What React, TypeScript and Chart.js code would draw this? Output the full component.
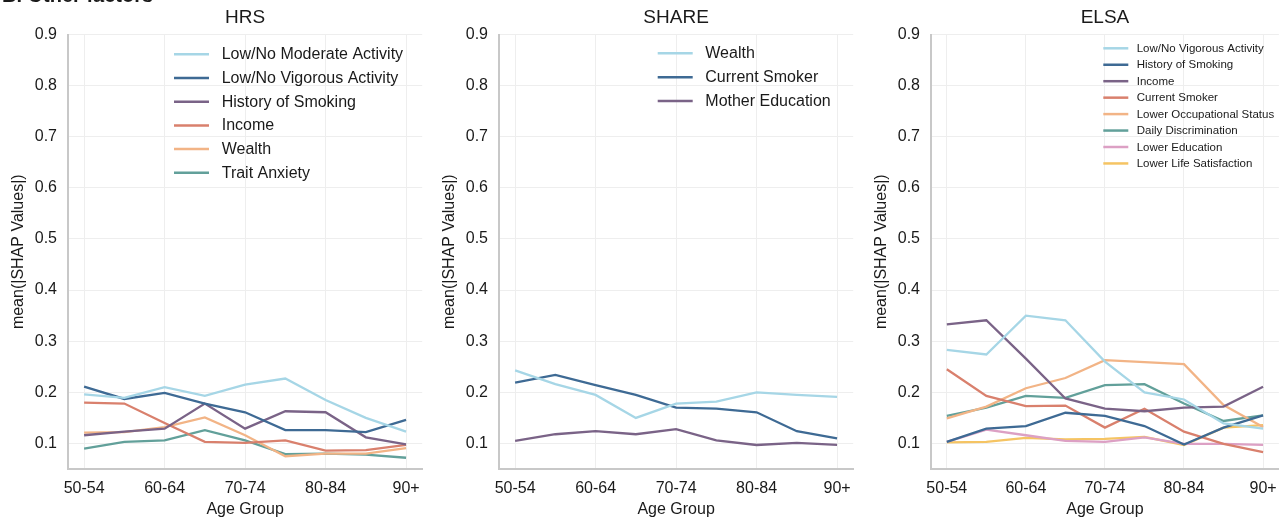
import React, { useEffect, useRef } from 'react';
import { Chart, registerables } from 'chart.js';

Chart.register(...registerables);

const FONT = '"Liberation Sans", Arial, Helvetica, sans-serif';
Chart.defaults.font.family = FONT;

// ---------- data ----------
const ageGroups = ['50-54', '55-59', '60-64', '65-69', '70-74', '75-79', '80-84', '85-89', '90+'];
const xTickIndices = [0, 2, 4, 6, 8];
const yTickValues = [0.1, 0.2, 0.3, 0.4, 0.5, 0.6, 0.7, 0.8, 0.9];

// HRS
const hrsLabels = ['Low/No Moderate Activity', 'Low/No Vigorous Activity', 'History of Smoking', 'Income', 'Wealth', 'Trait Anxiety'];
const hrsModerateActivity = [0.196, 0.189, 0.210, 0.193, 0.215, 0.227, 0.185, 0.150, 0.123];
const hrsVigorousActivity = [0.211, 0.187, 0.199, 0.178, 0.161, 0.126, 0.126, 0.122, 0.146];
const hrsHistorySmoking = [0.116, 0.123, 0.129, 0.178, 0.129, 0.163, 0.161, 0.112, 0.098];
const hrsIncome = [0.180, 0.178, 0.140, 0.103, 0.101, 0.106, 0.086, 0.087, 0.097];
const hrsWealth = [0.121, 0.122, 0.132, 0.151, 0.116, 0.075, 0.080, 0.080, 0.091];
const hrsTraitAnxiety = [0.090, 0.103, 0.106, 0.126, 0.106, 0.079, 0.080, 0.078, 0.072];

// SHARE
const shareLabels = ['Wealth', 'Current Smoker', 'Mother Education'];
const shareWealth = [0.243, 0.216, 0.195, 0.150, 0.178, 0.182, 0.200, 0.195, 0.191];
const shareCurrentSmoker = [0.219, 0.234, 0.214, 0.195, 0.170, 0.168, 0.161, 0.124, 0.110];
const shareMotherEducation = [0.105, 0.118, 0.124, 0.118, 0.128, 0.106, 0.097, 0.101, 0.097];

// ELSA
const elsaLabels = ['Low/No Vigorous Activity', 'History of Smoking', 'Income', 'Current Smoker', 'Lower Occupational Status', 'Daily Discrimination', 'Lower Education', 'Lower Life Satisfaction'];
const elsaVigorousActivity = [0.283, 0.274, 0.350, 0.341, 0.260, 0.200, 0.186, 0.139, 0.129];
const elsaHistorySmoking = [0.103, 0.129, 0.134, 0.160, 0.154, 0.134, 0.098, 0.131, 0.155];
const elsaIncome = [0.333, 0.341, 0.266, 0.188, 0.168, 0.163, 0.170, 0.172, 0.211];
const elsaCurrentSmoker = [0.245, 0.193, 0.173, 0.174, 0.131, 0.168, 0.123, 0.099, 0.083];
const elsaOccupational = [0.149, 0.172, 0.208, 0.228, 0.263, 0.259, 0.255, 0.175, 0.132];
const elsaDiscrimination = [0.154, 0.170, 0.193, 0.189, 0.214, 0.216, 0.178, 0.144, 0.155];
const elsaEducation = [0.103, 0.127, 0.116, 0.105, 0.103, 0.112, 0.099, 0.099, 0.097];
const elsaLifeSatisfaction = [0.102, 0.103, 0.111, 0.108, 0.109, 0.113, 0.097, 0.131, 0.136];

const palette = ['#a6d6e6', '#3e6a94', '#7a6387', '#d9806d', '#f2b486', '#62a09a', '#dca0c4', '#f5c463'];

// ---------- legend plugin (draws inside the plot, upper right) ----------
const inlineLegend = {
  id: 'inlineLegend',
  afterDatasetsDraw(chart: any, _args: any, opts: any) {
    const { ctx, chartArea } = chart;
    const x0 = chartArea.left + opts.x;
    ctx.save();
    ctx.font = `${opts.size}px ${FONT}`;
    ctx.textBaseline = 'middle';
    ctx.textAlign = 'left';
    chart.data.datasets.forEach((ds: any, i: number) => {
      const y = chartArea.top + opts.y + i * opts.gap;
      ctx.strokeStyle = ds.borderColor;
      ctx.lineWidth = 2.5;
      ctx.beginPath();
      ctx.moveTo(x0, y);
      ctx.lineTo(x0 + opts.len, y);
      ctx.stroke();
      ctx.fillStyle = '#1a1a1a';
      ctx.fillText(ds.label, x0 + opts.len + opts.textGap, y + 0.5);
    });
    ctx.restore();
  },
};

type PanelProps = {
  title: string;
  labels: string[];
  series: number[][];
  legend: { x: number; y: number; gap: number; len: number; textGap: number; size: number };
  left: number;
  width: number;
  padRight: number;
};

function Panel({ title, labels, series, legend, left, width, padRight }: PanelProps) {
  const ref = useRef<HTMLCanvasElement | null>(null);
  useEffect(() => {
    if (!ref.current) return;
    const datasets = series.map((vals, i) => ({
      label: labels[i],
      data: vals.map((v, k) => ({ x: k, y: v })),
      borderColor: palette[i],
      backgroundColor: palette[i],
      borderWidth: 2.3,
      pointRadius: 0,
      tension: 0,
      fill: false,
    }));
    const chart = new Chart(ref.current, {
      type: 'line',
      data: { datasets },
      plugins: [inlineLegend],
      options: {
        animation: false,
        responsive: false,
        maintainAspectRatio: false,
        devicePixelRatio: 1,
        layout: { padding: { left: 0, right: padRight, top: 0, bottom: 0 } },
        plugins: {
          legend: { display: false },
          tooltip: { enabled: false },
          title: {
            display: true,
            text: title,
            fullSize: false,
            color: '#1a1a1a',
            font: { size: 19, weight: 'normal', family: FONT },
            padding: { top: 6.4, bottom: 5.3 },
          },
          inlineLegend: legend,
        } as any,
        scales: {
          x: {
            type: 'linear',
            min: -0.4,
            max: 8.4,
            afterBuildTicks: (s: any) => {
              s.ticks = xTickIndices.map((v) => ({ value: v }));
            },
            afterFit: (s: any) => {
              s.height = 50;
            },
            ticks: {
              color: '#1a1a1a',
              font: { size: 16, family: FONT },
              padding: 10,
              maxRotation: 0,
              autoSkip: false,
              callback: (v: any) => ageGroups[Math.round(Number(v))] ?? '',
            },
            grid: { color: '#eeeeee', lineWidth: 1, drawTicks: false },
            border: { color: '#c8c8c8', width: 2 },
            title: {
              display: true,
              text: 'Age Group',
              color: '#1a1a1a',
              font: { size: 16, family: FONT },
              padding: { top: 0, bottom: 0 },
            },
          },
          y: {
            type: 'linear',
            min: 0.05,
            max: 0.9,
            afterBuildTicks: (s: any) => {
              s.ticks = yTickValues.map((v) => ({ value: v }));
            },
            afterFit: (s: any) => {
              s.width = 68;
            },
            ticks: {
              color: '#1a1a1a',
              font: { size: 16, family: FONT },
              padding: 11,
              callback: (v: any) => Number(v).toFixed(1),
            },
            grid: { color: '#eeeeee', lineWidth: 1, drawTicks: false },
            border: { color: '#c8c8c8', width: 2 },
            title: {
              display: true,
              text: 'mean(|SHAP Values|)',
              color: '#1a1a1a',
              font: { size: 16, family: FONT },
              padding: { top: 8.5, bottom: 0 },
            },
          },
        },
      } as any,
    });
    return () => chart.destroy();
  }, []);
  return (
    <canvas
      ref={ref}
      width={width}
      height={519}
      style={{ position: 'absolute', left, top: 0, width, height: 519, display: 'block' }}
    />
  );
}

export default function App() {
  return (
    <div style={{ position: 'absolute', left: 0, top: 0, width: 1287, height: 519, overflow: 'hidden', background: '#ffffff' }}>
      <Panel
        title="HRS"
        labels={hrsLabels}
        series={[hrsModerateActivity, hrsVigorousActivity, hrsHistorySmoking, hrsIncome, hrsWealth, hrsTraitAnxiety]}
        legend={{ x: 106, y: 19.8, gap: 23.7, len: 35, textGap: 12.7, size: 16 }}
        left={0}
        width={430}
        padRight={7}
      />
      <Panel
        title="SHARE"
        labels={shareLabels}
        series={[shareWealth, shareCurrentSmoker, shareMotherEducation]}
        legend={{ x: 158.7, y: 18.8, gap: 23.9, len: 35, textGap: 12.6, size: 16 }}
        left={431}
        width={430}
        padRight={6}
      />
      <Panel
        title="ELSA"
        labels={elsaLabels}
        series={[elsaVigorousActivity, elsaHistorySmoking, elsaIncome, elsaCurrentSmoker, elsaOccupational, elsaDiscrimination, elsaEducation, elsaLifeSatisfaction]}
        legend={{ x: 172.3, y: 13.8, gap: 16.45, len: 25, textGap: 8.4, size: 11.5 }}
        left={863}
        width={424}
        padRight={0}
      />
      <div
        style={{
          position: 'absolute',
          left: 2,
          top: -15,
          fontFamily: FONT,
          fontWeight: 'bold',
          fontSize: 20,
          lineHeight: '20px',
          color: '#1a1a1a',
          whiteSpace: 'nowrap',
        }}
      >
        B. Other factors
      </div>
    </div>
  );
}
